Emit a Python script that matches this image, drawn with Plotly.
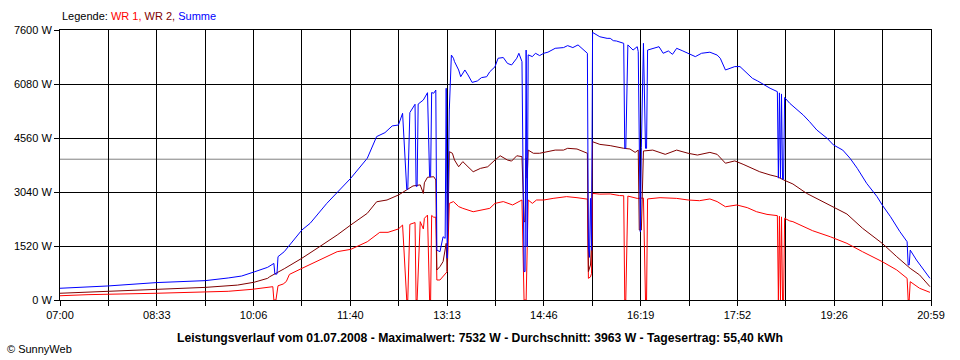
import plotly.graph_objects as go

# ---------------- data ----------------
wr1_time = ["07:00","07:27","08:33","09:42","10:05","10:25","10:26","10:28","10:30","10:35","10:38","10:41","10:53",
            "11:10","11:27","11:40","11:56","12:08","12:16","12:26","12:30","12:34","12:35","12:37","12:42","12:43",
            "12:44","12:47","12:50","12:51","12:54","12:56","12:57","12:58","13:00","13:02","13:03","13:06","13:09",
            "13:11","13:13","13:15","13:19","13:24","13:28","13:38","13:47","13:54","13:59","14:07","14:16","14:25",
            "14:27","14:29","14:31","14:35","14:39","14:46","14:55","15:08","15:18","15:24","15:28","15:29","15:31",
            "15:32","15:33","15:40","15:50","15:59","16:03","16:04","16:05","16:07","16:16","16:22","16:24","16:25",
            "16:26","16:38","16:54","17:05","17:16","17:26","17:33","17:41","17:52","18:02","18:11","18:21","18:31",
            "18:32","18:33","18:34","18:35","18:36","18:37","18:38","18:43","18:46","18:56","19:05","19:22","19:38",
            "19:53","20:12","20:26","20:36","20:37","20:38","20:39","20:48","20:58"]
wr1_w = [120,150,190,245,300,375,0,0,400,450,520,720,890,
         1125,1360,1425,1640,1905,1905,2000,2110,0,0,2130,2180,0,
         0,2205,2000,2300,2390,0,0,2380,2330,2330,563,563,660,
         750,800,2720,2770,2630,2580,2485,2535,2580,2720,2770,2675,2815,
         0,0,2815,2720,2815,2815,2860,2910,2880,2860,2840,610,650,
         750,3000,2980,2985,2940,2935,0,0,2925,2860,2870,0,0,
         2845,2880,2860,2815,2795,2845,2770,2625,2675,2600,2485,2410,2375,
         0,2360,0,2340,0,0,2300,2225,2205,2065,1950,1780,1595,
         1360,1080,845,610,0,0,515,330,215]

wr2_time = ["07:00","07:46","08:33","09:20","09:51","10:07","10:20","10:22","10:36","10:53","11:10","11:27","11:40",
            "11:56","12:05","12:15","12:26","12:34","12:40","12:47","12:50","12:51","12:54","13:00","13:02","13:03",
            "13:06","13:09","13:12","13:13","13:15","13:18","13:20","13:24","13:28","13:33","13:38","13:45","13:52",
            "13:59","14:04","14:11","14:15","14:20","14:25","14:27","14:28","14:29","14:30","14:31","14:36","14:42",
            "14:49","14:57","15:05","15:09","15:18","15:24","15:28","15:29","15:31","15:32","15:33","15:40","15:47",
            "15:50","16:03","16:09","16:14","16:17","16:18","16:20","16:22","16:31","16:43","16:54","17:05","17:14",
            "17:26","17:33","17:41","17:50","17:58","18:07","18:14","18:24","18:31","18:37","18:43","18:46","18:59",
            "19:15","19:25","19:38","19:53","20:12","20:26","20:39","20:48","20:58"]
wr2_w = [190,245,300,355,420,500,610,655,880,1175,1500,1830,2110,
         2440,2765,2815,2955,3115,3210,3240,3000,3300,3455,3470,3380,845,
         940,1080,1595,800,4175,4130,3940,3750,3895,3750,3610,3705,3750,
         3940,4060,3940,3910,4060,4035,2205,2205,4000,3430,4220,4130,4130,
         4175,4220,4220,4270,4250,4175,4130,800,985,1550,4455,4380,4360,
         4345,4270,4250,4155,4220,1970,1970,4195,4220,4100,4220,4130,4080,
         4155,4100,3850,3915,3820,3705,3610,3520,3470,3380,3310,3265,3005,
         2765,2625,2420,2020,1595,1220,890,705,375]

sum_time = ["07:00","07:46","08:33","09:20","09:42","09:55","10:07","10:20","10:26","10:27","10:29","10:30","10:36",
            "10:53","11:01","11:17","11:40","11:56","12:05","12:13","12:20","12:26","12:30","12:34","12:35","12:37",
            "12:42","12:43","12:44","12:45","12:50","12:54","12:56","12:57","12:58","13:00","13:02","13:03","13:06",
            "13:09","13:11","13:12","13:13","13:15","13:17","13:19","13:20","13:24","13:26","13:30","13:33","13:37",
            "13:42","13:46","13:51","13:54","13:59","14:02","14:07","14:11","14:15","14:20","14:22","14:25","14:27",
            "14:28","14:29","14:30","14:31","14:35","14:38","14:42","14:46","14:50","14:57","15:05","15:09","15:14",
            "15:19","15:24","15:28","15:29","15:30","15:31","15:32","15:33","15:40","15:47","15:50","15:53","15:56",
            "16:03","16:04","16:05","16:07","16:12","16:16","16:17","16:18","16:19","16:20","16:22","16:24","16:25",
            "16:26","16:31","16:37","16:41","16:46","16:50","16:54","17:00","17:05","17:12","17:18","17:26","17:33",
            "17:36","17:41","17:45","17:50","17:55","18:00","18:07","18:12","18:17","18:24","18:31","18:32","18:33",
            "18:34","18:35","18:36","18:37","18:38","18:43","18:49","18:56","19:02","19:09","19:19","19:25","19:34",
            "19:41","19:48","19:57","20:07","20:12","20:20","20:29","20:36","20:37","20:38","20:39","20:45","20:51",
            "20:58"]
sum_w = [330,395,490,545,620,675,790,920,1030,730,730,1220,1360,
         1970,2160,2720,3425,3990,4600,4710,4900,4925,5255,3115,3115,5275,
         5510,3200,3200,5515,5630,5835,3470,3470,5840,5820,5910,1405,1360,
         1780,1735,5960,1175,5350,6895,6805,6710,6475,6285,6475,6335,6125,
         6165,6260,6285,6425,6565,6805,6825,6660,6615,6805,6945,6710,800,
         800,7035,1500,6900,6850,6945,6880,6945,6975,7085,7105,7160,7105,
         7180,7035,6945,1500,1200,2860,1400,7532,7410,7365,7365,7300,7290,
         7225,4270,4270,7180,7035,7130,6990,4300,1920,4300,7225,4270,4270,
         7035,7085,7130,6945,7010,6915,7085,7010,6945,6850,6945,6975,6895,
         6805,6475,6520,6570,6570,6425,6240,6165,6070,5960,5865,3430,5830,
         3430,5800,3400,3400,5700,5535,5395,5205,5020,4785,4550,4365,4220,
         3990,3705,3285,2910,2675,2345,1925,1640,985,985,1405,1125,890,
         610]

avg_w = 3963
x_tick_labels = ["07:00", "", "08:33", "", "10:06", "", "11:40", "", "13:13", "",
                 "14:46", "", "16:19", "", "17:52", "", "19:26", "", "20:59"]
y_tick_values = [0, 1520, 3040, 4560, 6080, 7600]
y_tick_labels = ["0 W", "1520 W", "3040 W", "4560 W", "6080 W", "7600 W"]
series_names = ["WR 1", "WR 2", "Summe"]
series_colors = ["#ff0000", "#800000", "#0000ff"]
title_text = ("Leistungsverlauf vom 01.07.2008 - Maximalwert: 7532 W - "
              "Durchschnitt: 3963 W - Tagesertrag: 55,40 kWh")

START_MIN = 7 * 60
END_MIN = 20 * 60 + 59


def to_min(hhmm):
    h, m = hhmm.split(":")
    return int(h) * 60 + int(m) - START_MIN


span = END_MIN - START_MIN
FONT = "Liberation Sans, Arial, sans-serif"

fig = go.Figure()
for name, t, w, c in zip(series_names, [wr1_time, wr2_time, sum_time],
                         [wr1_w, wr2_w, sum_w], series_colors):
    fig.add_trace(go.Scatter(x=[to_min(s) for s in t], y=w, mode="lines", name=name,
                             line=dict(color=c, width=1), hoverinfo="skip"))

fig.add_shape(type="line", xref="paper", x0=0, x1=1, yref="y", y0=avg_w, y1=avg_w,
              line=dict(color="#808080", width=1), layer="between")

n_int = len(x_tick_labels) - 1
fig.update_layout(
    width=960, height=360,
    margin=dict(l=60, r=29, t=30, b=60, pad=0),
    paper_bgcolor="white", plot_bgcolor="white",
    showlegend=False,
    font=dict(family=FONT, size=11, color="black"),
    xaxis=dict(range=[0, span], tickmode="array",
               tickvals=[k * span / n_int for k in range(n_int + 1)],
               ticktext=x_tick_labels, ticks="outside", ticklen=5, tickcolor="black",
               showgrid=True, gridcolor="black", gridwidth=1, zeroline=False,
               showline=True, linecolor="black", linewidth=1, mirror=True,
               tickfont=dict(family=FONT, size=11)),
    yaxis=dict(range=[0, 7600], tickmode="array", tickvals=y_tick_values,
               ticktext=y_tick_labels, ticks="outside", ticklen=5, tickcolor="black",
               showgrid=True, gridcolor="black", gridwidth=1, zeroline=False,
               showline=True, linecolor="black", linewidth=1, mirror=True,
               tickfont=dict(family=FONT, size=11)),
)

legend_html = ("Legende: "
               + "".join(f'<span style="color:{c}">{n}{"," if i < 2 else ""}</span> '
                         for i, (n, c) in enumerate(zip(series_names, series_colors))))
fig.add_annotation(text=legend_html.strip(), xref="paper", yref="paper",
                   x=0, y=(300 - 16) / 270, xanchor="left", yanchor="middle",
                   showarrow=False, font=dict(family=FONT, size=11, color="black"))
fig.add_annotation(text=f"<b>{title_text}</b>", xref="paper", yref="paper",
                   x=(480 - 60) / 871, y=(300 - 338) / 270, xanchor="center", yanchor="middle",
                   showarrow=False, font=dict(family=FONT, size=12.2, color="black"))
fig.add_annotation(text="© SunnyWeb", xref="paper", yref="paper",
                   x=(5 - 60) / 871, y=(300 - 349) / 270, xanchor="left", yanchor="middle",
                   showarrow=False, font=dict(family=FONT, size=11, color="black"))

fig.write_html("out.html", config={"displayModeBar": False},
               post_script="document.body.style.margin='0';")
